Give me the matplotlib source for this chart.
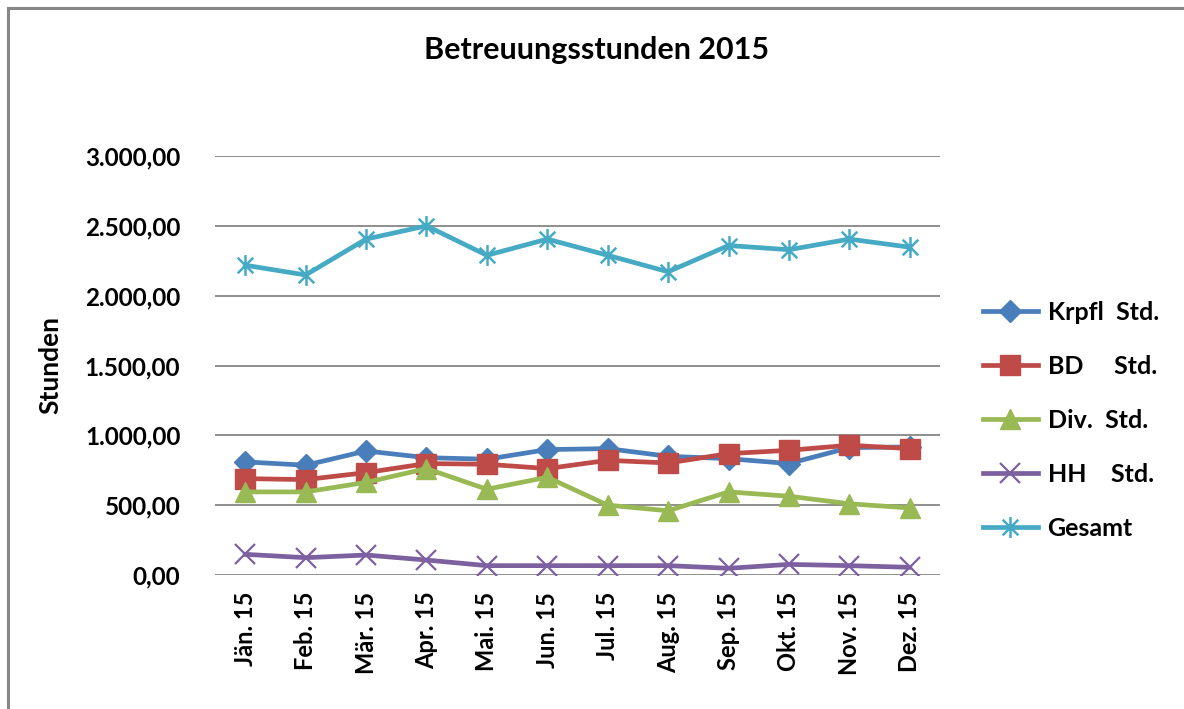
import matplotlib
matplotlib.use("Agg")
import matplotlib.pyplot as plt
from matplotlib.path import Path
from matplotlib.lines import Line2D
from matplotlib.ticker import FuncFormatter

months = ["Jän. 15", "Feb. 15", "Mär. 15", "Apr. 15", "Mai. 15", "Jun. 15",
          "Jul. 15", "Aug. 15", "Sep. 15", "Okt. 15", "Nov. 15", "Dez. 15"]
krpfl = [810, 786, 888, 840, 829, 898, 905, 850, 833, 798, 912, 917]
bd = [690, 683, 733, 798, 793, 762, 821, 802, 869, 893, 929, 905]
div = [595, 595, 663, 762, 614, 700, 500, 460, 595, 564, 510, 480]
hh = [148, 124, 143, 107, 67, 67, 67, 67, 48, 76, 67, 55]
gesamt = [2218, 2148, 2405, 2500, 2289, 2405, 2289, 2171, 2359, 2329, 2405, 2347]

series_labels = ["Krpfl  Std.", "BD     Std.", "Div.  Std.", "HH    Std.", "Gesamt"]
colors = ["#4A7EBB", "#BE4B48", "#98B954", "#7D60A0", "#46AAC5"]

FONT = "Lato"
plt.rcParams['font.family'] = [FONT, 'DejaVu Sans']

fig = plt.figure(figsize=(11.84, 7.09), dpi=100)
ax = fig.add_axes([215/1184, 134/709, 725/1184, 419/709])

# chart border (left and top edges visible)
bx = 8/1184
by = 1 - 8/709
fig.lines.append(Line2D([bx, bx], [-0.05, by], transform=fig.transFigure,
                        color="#868686", linewidth=2.2))
fig.lines.append(Line2D([bx, 1.05], [by, by], transform=fig.transFigure,
                        color="#868686", linewidth=2.2))

ast = Path([(0, -1), (0, 1), (-0.75, -0.75), (0.75, 0.75), (-0.75, 0.75), (0.75, -0.75)],
           [Path.MOVETO, Path.LINETO, Path.MOVETO, Path.LINETO, Path.MOVETO, Path.LINETO])

x = list(range(len(months)))
lw = 3.4
ax.plot(x, krpfl, color=colors[0], lw=lw, marker="D", ms=11, label=series_labels[0], zorder=3)
ax.plot(x, bd, color=colors[1], lw=lw, marker="s", ms=14, label=series_labels[1], zorder=3)
ax.plot(x, div, color=colors[2], lw=lw, marker="^", ms=15, label=series_labels[2], zorder=3)
ax.plot(x, hh, color=colors[3], lw=lw, marker="x", ms=15, mew=1.6, label=series_labels[3], zorder=3)
ax.plot(x, gesamt, color=colors[4], lw=lw, marker=ast, ms=15, mew=1.8, label=series_labels[4], zorder=3)

ax.set_xlim(-0.5, 11.5)
ax.set_ylim(0, 3000)
ax.set_yticks([0, 500, 1000, 1500, 2000, 2500, 3000])

def fmt(v, pos):
    s = f"{v:,.2f}"
    return s.replace(",", "X").replace(".", ",").replace("X", ".")
ax.yaxis.set_major_formatter(FuncFormatter(fmt))
ax.set_xticks(x)
ax.set_xticklabels(months, rotation=90, fontsize=17, fontweight="bold")
for lab in ax.get_yticklabels():
    lab.set_fontsize(17.5)
    lab.set_fontweight("bold")
ax.tick_params(axis="both", length=0)
ax.tick_params(axis="y", pad=25)
ax.tick_params(axis="x", pad=12)

ax.grid(axis="y", color="#868686", linewidth=1.3)
ax.set_axisbelow(True)
for s in ax.spines.values():
    s.set_visible(False)

ax.set_ylabel("Stunden", fontsize=19, fontweight="bold")
ax.yaxis.set_label_coords(-0.21, 0.5)

fig.text(597/1184, 1 - 50/709, "Betreuungsstunden 2015", ha="center", va="center",
         fontsize=22, fontweight="bold")

leg = fig.legend(loc="center left", bbox_to_anchor=(970/1184, 1 - 420/709),
                 frameon=False, prop={"size": 18, "weight": "bold"},
                 labelspacing=1.24, handlelength=2.2,
                 handletextpad=0.4, borderpad=0)

fig.savefig("out.png", dpi=100)
